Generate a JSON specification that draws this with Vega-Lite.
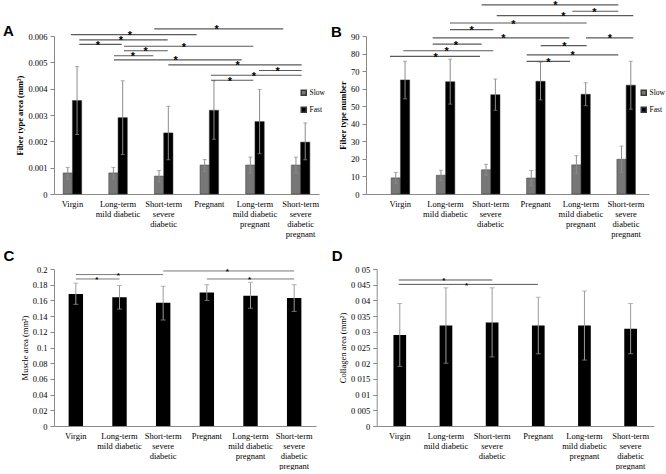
{
  "$schema": "https://vega.github.io/schema/vega-lite/v6.json",
  "background": "white",
  "padding": {"left": 3, "top": 0, "right": 0, "bottom": 0},
  "datasets": {
    "fiberArea": [
      {"group": "Virgin", "type": "Slow", "mean": 0.0008, "lo": 0.00056, "hi": 0.00101},
      {"group": "Virgin", "type": "Fast", "mean": 0.00355, "lo": 0.00226, "hi": 0.00484},
      {"group": "Long-term mild diabetic", "type": "Slow", "mean": 0.0008, "lo": 0.00057, "hi": 0.00101},
      {"group": "Long-term mild diabetic", "type": "Fast", "mean": 0.0029, "lo": 0.0015, "hi": 0.0043},
      {"group": "Short-term severe diabetic", "type": "Slow", "mean": 0.00068, "lo": 0.00046, "hi": 0.00089},
      {"group": "Short-term severe diabetic", "type": "Fast", "mean": 0.00232, "lo": 0.0013, "hi": 0.00333},
      {"group": "Pregnant", "type": "Slow", "mean": 0.0011, "lo": 0.00086, "hi": 0.00131},
      {"group": "Pregnant", "type": "Fast", "mean": 0.00318, "lo": 0.00208, "hi": 0.0043},
      {"group": "Long-term mild diabetic pregnant", "type": "Slow", "mean": 0.0011, "lo": 0.0008, "hi": 0.0014},
      {"group": "Long-term mild diabetic pregnant", "type": "Fast", "mean": 0.00275, "lo": 0.00153, "hi": 0.00397},
      {"group": "Short-term severe diabetic pregnant", "type": "Slow", "mean": 0.0011, "lo": 0.0008, "hi": 0.0014},
      {"group": "Short-term severe diabetic pregnant", "type": "Fast", "mean": 0.00197, "lo": 0.0013, "hi": 0.0027}
    ],
    "fiberNumber": [
      {"group": "Virgin", "type": "Slow", "mean": 9.2, "lo": 6.1, "hi": 12.3},
      {"group": "Virgin", "type": "Fast", "mean": 65, "lo": 54.2, "hi": 75.6},
      {"group": "Long-term mild diabetic", "type": "Slow", "mean": 10.7, "lo": 7.6, "hi": 13.5},
      {"group": "Long-term mild diabetic", "type": "Fast", "mean": 64, "lo": 51.2, "hi": 76.8},
      {"group": "Short-term severe diabetic", "type": "Slow", "mean": 13.8, "lo": 10.7, "hi": 16.9},
      {"group": "Short-term severe diabetic", "type": "Fast", "mean": 56.6, "lo": 47.7, "hi": 65.5},
      {"group": "Pregnant", "type": "Slow", "mean": 9.1, "lo": 4.8, "hi": 13.4},
      {"group": "Pregnant", "type": "Fast", "mean": 64.2, "lo": 53.6, "hi": 75},
      {"group": "Long-term mild diabetic pregnant", "type": "Slow", "mean": 16.6, "lo": 11.5, "hi": 21.8},
      {"group": "Long-term mild diabetic pregnant", "type": "Fast", "mean": 56.8, "lo": 50.3, "hi": 63.4},
      {"group": "Short-term severe diabetic pregnant", "type": "Slow", "mean": 19.8, "lo": 12.3, "hi": 27.3},
      {"group": "Short-term severe diabetic pregnant", "type": "Fast", "mean": 62, "lo": 48.3, "hi": 75.6}
    ],
    "muscleArea": [
      {"group": "Virgin", "mean": 0.168, "lo": 0.155, "hi": 0.182},
      {"group": "Long-term mild diabetic", "mean": 0.164, "lo": 0.149, "hi": 0.179},
      {"group": "Short-term severe diabetic", "mean": 0.157, "lo": 0.135, "hi": 0.178},
      {"group": "Pregnant", "mean": 0.17, "lo": 0.16, "hi": 0.18},
      {"group": "Long-term mild diabetic pregnant", "mean": 0.166, "lo": 0.15, "hi": 0.183},
      {"group": "Short-term severe diabetic pregnant", "mean": 0.163, "lo": 0.146, "hi": 0.18}
    ],
    "collagenArea": [
      {"group": "Virgin", "mean": 0.029, "lo": 0.019, "hi": 0.039},
      {"group": "Long-term mild diabetic", "mean": 0.032, "lo": 0.02, "hi": 0.044},
      {"group": "Short-term severe diabetic", "mean": 0.033, "lo": 0.022, "hi": 0.044},
      {"group": "Pregnant", "mean": 0.032, "lo": 0.023, "hi": 0.041},
      {"group": "Long-term mild diabetic pregnant", "mean": 0.032, "lo": 0.021, "hi": 0.043},
      {"group": "Short-term severe diabetic pregnant", "mean": 0.031, "lo": 0.023, "hi": 0.039}
    ],
    "sigA": [
      {"x1": 2.27, "x2": 5.19, "s": 3.68, "y": 0.00627},
      {"x1": 0.385, "x2": 3.23, "s": 1.72, "y": 0.00605},
      {"x1": 0.573, "x2": 2.574, "s": 1.517, "y": 0.00585},
      {"x1": 0.573, "x2": 1.533, "s": 0.996, "y": 0.00568},
      {"x1": 1.585, "x2": 4.512, "s": 2.943, "y": 0.00561},
      {"x1": 1.585, "x2": 2.574, "s": 2.076, "y": 0.00544},
      {"x1": 1.358, "x2": 2.248, "s": 1.789, "y": 0.00525},
      {"x1": 1.358, "x2": 4.25, "s": 2.755, "y": 0.00509},
      {"x1": 2.588, "x2": 5.608, "s": 4.159, "y": 0.0049},
      {"x1": 4.641, "x2": 5.608, "s": 5.065, "y": 0.00469},
      {"x1": 3.554, "x2": 5.608, "s": 4.528, "y": 0.00451},
      {"x1": 3.554, "x2": 4.512, "s": 3.985, "y": 0.00432}
    ],
    "sigB": [
      {"x1": 2.303, "x2": 5.329, "s": 3.934, "y": 107.7},
      {"x1": 4.31, "x2": 5.329, "s": 4.797, "y": 104.1},
      {"x1": 2.636, "x2": 5.661, "s": 4.111, "y": 101.6},
      {"x1": 1.601, "x2": 4.629, "s": 3.003, "y": 97.4},
      {"x1": 1.601, "x2": 2.56, "s": 2.082, "y": 93.6},
      {"x1": 1.218, "x2": 4.244, "s": 2.782, "y": 88.9},
      {"x1": 4.614, "x2": 5.661, "s": 5.145, "y": 88.9},
      {"x1": 1.218, "x2": 2.303, "s": 1.734, "y": 85.4},
      {"x1": 3.61, "x2": 4.629, "s": 4.133, "y": 84.5},
      {"x1": 0.567, "x2": 2.56, "s": 1.528, "y": 81.6},
      {"x1": 3.3, "x2": 5.329, "s": 4.319, "y": 79.3},
      {"x1": 0.272, "x2": 2.266, "s": 1.285, "y": 78.4},
      {"x1": 3.3, "x2": 4.259, "s": 3.779, "y": 75.6}
    ],
    "sigC": [
      {"x1": 0.5, "x2": 2.5, "s": 1.47, "y": 0.1929},
      {"x1": 0.5, "x2": 1.5, "s": 0.98, "y": 0.1873},
      {"x1": 2.5, "x2": 5.5, "s": 3.97, "y": 0.1975},
      {"x1": 3.5, "x2": 5.5, "s": 4.48, "y": 0.1873}
    ],
    "sigD": [
      {"x1": 0.477, "x2": 2.503, "s": 1.453, "y": 0.0465},
      {"x1": 0.477, "x2": 3.492, "s": 1.946, "y": 0.0451}
    ]
  },
  "vconcat": [
    {
      "hconcat": [
        {
          "width": 265, "height": 158,
          "title": {"text": "A", "dx": -51, "dy": 18.6},
          "resolve": {"scale": {"x": "independent"}},
          "layer": [
            {
              "data": {"name": "fiberArea"},
              "encoding": {
                "x": {"field": "group", "type": "nominal", "sort": ["Virgin", "Long-term mild diabetic", "Short-term severe diabetic", "Pregnant", "Long-term mild diabetic pregnant", "Short-term severe diabetic pregnant"], "scale": {"paddingInner": 0.593},
                  "axis": {"title": null, "labelExpr": "datum.label == 'Long-term mild diabetic' ? ['Long-term', 'mild diabetic'] : datum.label == 'Short-term severe diabetic' ? ['Short-term', 'severe', 'diabetic'] : datum.label == 'Long-term mild diabetic pregnant' ? ['Long-term', 'mild diabetic', 'pregnant'] : datum.label == 'Short-term severe diabetic pregnant' ? ['Short-term', 'severe', 'diabetic', 'pregnant'] : datum.label"}},
                "xOffset": {"field": "type", "type": "nominal", "sort": ["Slow", "Fast"]}
              },
              "layer": [
                {
                  "mark": {"type": "bar", "stroke": "#3a3a3a", "strokeWidth": 0.5},
                  "encoding": {
                    "y": {"field": "mean", "type": "quantitative", "scale": {"domain": [0, 0.006], "nice": false},
                      "axis": {"title": "Fiber type area (mm²)", "titleFontWeight": "bold", "values": [0, 0.001, 0.002, 0.003, 0.004, 0.005, 0.006], "tickCount": 30, "labelExpr": "format(datum.value, '~g')", "labelOverlap": false}},
                    "color": {"field": "type", "type": "nominal", "sort": ["Slow", "Fast"], "scale": {"domain": ["Slow", "Fast"], "range": ["#777777", "#000000"]},
                      "legend": {"title": null, "orient": "none", "legendX": 246, "legendY": 53}}
                  }
                },
                {
                  "mark": {"type": "rule", "color": "#8c8c8c", "strokeWidth": 1},
                  "encoding": {"y": {"field": "lo", "type": "quantitative", "scale": {"domain": [0, 0.006], "nice": false}}, "y2": {"field": "hi"}}
                },
                {
                  "mark": {"type": "tick", "color": "#8c8c8c", "thickness": 1, "size": 4},
                  "encoding": {"y": {"field": "hi", "type": "quantitative", "scale": {"domain": [0, 0.006], "nice": false}}}
                },
                {
                  "mark": {"type": "tick", "color": "#8c8c8c", "thickness": 1, "size": 4},
                  "encoding": {"y": {"field": "lo", "type": "quantitative", "scale": {"domain": [0, 0.006], "nice": false}}}
                }
              ]
            },
            {
              "data": {"name": "sigA"},
              "layer": [
                {
                  "mark": {"type": "rule", "color": "#5a5a5a", "strokeWidth": 1.2, "clip": false},
                  "encoding": {
                    "x": {"field": "x1", "type": "quantitative", "scale": {"domain": [0, 6], "nice": false, "zero": false}, "axis": null},
                    "x2": {"field": "x2"},
                    "y": {"field": "y", "type": "quantitative", "scale": {"domain": [0, 0.006], "nice": false}}
                  }
                },
                {
                  "mark": {"type": "text", "text": "*", "font": "Liberation Sans", "fontSize": 11, "fontWeight": "bold", "baseline": "alphabetic", "dy": 4.5, "clip": false},
                  "encoding": {
                    "x": {"field": "s", "type": "quantitative", "scale": {"domain": [0, 6], "nice": false, "zero": false}, "axis": null},
                    "y": {"field": "y", "type": "quantitative", "scale": {"domain": [0, 0.006], "nice": false}}
                  }
                }
              ]
            }
          ]
        },
        {
          "width": 283, "height": 158,
          "title": {"text": "B", "dx": -35, "dy": 43.2},
          "resolve": {"scale": {"x": "independent"}},
          "layer": [
            {
              "data": {"name": "fiberNumber"},
              "encoding": {
                "x": {"field": "group", "type": "nominal", "sort": ["Virgin", "Long-term mild diabetic", "Short-term severe diabetic", "Pregnant", "Long-term mild diabetic pregnant", "Short-term severe diabetic pregnant"], "scale": {"paddingInner": 0.595, "paddingOuter": 0.4315, "align": 0.645},
                  "axis": {"title": null, "labelExpr": "datum.label == 'Long-term mild diabetic' ? ['Long-term', 'mild diabetic'] : datum.label == 'Short-term severe diabetic' ? ['Short-term', 'severe', 'diabetic'] : datum.label == 'Long-term mild diabetic pregnant' ? ['Long-term', 'mild diabetic', 'pregnant'] : datum.label == 'Short-term severe diabetic pregnant' ? ['Short-term', 'severe', 'diabetic', 'pregnant'] : datum.label"}},
                "xOffset": {"field": "type", "type": "nominal", "sort": ["Slow", "Fast"]}
              },
              "layer": [
                {
                  "mark": {"type": "bar", "stroke": "#3a3a3a", "strokeWidth": 0.5},
                  "encoding": {
                    "y": {"field": "mean", "type": "quantitative", "scale": {"domain": [0, 90], "nice": false},
                      "axis": {"title": "Fiber type number", "titleFontWeight": "bold", "values": [0, 10, 20, 30, 40, 50, 60, 70, 80, 90], "tickCount": 30, "labelExpr": "format(datum.value, '~g')", "labelOverlap": false}},
                    "color": {"field": "type", "type": "nominal", "sort": ["Slow", "Fast"], "scale": {"domain": ["Slow", "Fast"], "range": ["#777777", "#000000"]},
                      "legend": {"title": null, "orient": "none", "legendX": 274, "legendY": 53}}
                  }
                },
                {
                  "mark": {"type": "rule", "color": "#8c8c8c", "strokeWidth": 1},
                  "encoding": {"y": {"field": "lo", "type": "quantitative", "scale": {"domain": [0, 90], "nice": false}}, "y2": {"field": "hi"}}
                },
                {
                  "mark": {"type": "tick", "color": "#8c8c8c", "thickness": 1, "size": 4},
                  "encoding": {"y": {"field": "hi", "type": "quantitative", "scale": {"domain": [0, 90], "nice": false}}}
                },
                {
                  "mark": {"type": "tick", "color": "#8c8c8c", "thickness": 1, "size": 4},
                  "encoding": {"y": {"field": "lo", "type": "quantitative", "scale": {"domain": [0, 90], "nice": false}}}
                }
              ]
            },
            {
              "data": {"name": "sigB"},
              "layer": [
                {
                  "mark": {"type": "rule", "color": "#5a5a5a", "strokeWidth": 1.2, "clip": false},
                  "encoding": {
                    "x": {"field": "x1", "type": "quantitative", "scale": {"domain": [-0.259, 6.009], "nice": false, "zero": false}, "axis": null},
                    "x2": {"field": "x2"},
                    "y": {"field": "y", "type": "quantitative", "scale": {"domain": [0, 90], "nice": false}}
                  }
                },
                {
                  "mark": {"type": "text", "text": "*", "font": "Liberation Sans", "fontSize": 11, "fontWeight": "bold", "baseline": "alphabetic", "dy": 4.5, "clip": false},
                  "encoding": {
                    "x": {"field": "s", "type": "quantitative", "scale": {"domain": [-0.259, 6.009], "nice": false, "zero": false}, "axis": null},
                    "y": {"field": "y", "type": "quantitative", "scale": {"domain": [0, 90], "nice": false}}
                  }
                }
              ]
            }
          ]
        }
      ],
      "spacing": 47,
      "bounds": "flush",
      "resolve": {"scale": {"color": "independent"}, "legend": {"color": "independent"}}
    },
    {
      "hconcat": [
        {
          "width": 262, "height": 157,
          "title": {"text": "C", "dx": -50.6, "dy": 3},
          "resolve": {"scale": {"x": "independent"}},
          "layer": [
            {
              "data": {"name": "muscleArea"},
              "encoding": {
                "x": {"field": "group", "type": "nominal", "sort": ["Virgin", "Long-term mild diabetic", "Short-term severe diabetic", "Pregnant", "Long-term mild diabetic pregnant", "Short-term severe diabetic pregnant"], "scale": {"paddingInner": 0.67},
                  "axis": {"title": null, "labelExpr": "datum.label == 'Long-term mild diabetic' ? ['Long-term', 'mild diabetic'] : datum.label == 'Short-term severe diabetic' ? ['Short-term', 'severe', 'diabetic'] : datum.label == 'Long-term mild diabetic pregnant' ? ['Long-term', 'mild diabetic', 'pregnant'] : datum.label == 'Short-term severe diabetic pregnant' ? ['Short-term', 'severe', 'diabetic', 'pregnant'] : datum.label"}}
              },
              "layer": [
                {
                  "mark": {"type": "bar", "color": "#000000"},
                  "encoding": {
                    "y": {"field": "mean", "type": "quantitative", "scale": {"domain": [0, 0.2], "nice": false},
                      "axis": {"title": "Muscle area (mm²)", "values": [0, 0.02, 0.04, 0.06, 0.08, 0.1, 0.12, 0.14, 0.16, 0.18, 0.2], "tickCount": 30, "labelExpr": "format(datum.value, '~g')", "labelOverlap": false}}
                  }
                },
                {
                  "mark": {"type": "rule", "color": "#9a9a9a", "strokeWidth": 1},
                  "encoding": {"y": {"field": "lo", "type": "quantitative", "scale": {"domain": [0, 0.2], "nice": false}}, "y2": {"field": "hi"}}
                },
                {
                  "mark": {"type": "tick", "color": "#9a9a9a", "thickness": 1, "size": 5},
                  "encoding": {"y": {"field": "hi", "type": "quantitative", "scale": {"domain": [0, 0.2], "nice": false}}}
                },
                {
                  "mark": {"type": "tick", "color": "#9a9a9a", "thickness": 1, "size": 5},
                  "encoding": {"y": {"field": "lo", "type": "quantitative", "scale": {"domain": [0, 0.2], "nice": false}}}
                }
              ]
            },
            {
              "data": {"name": "sigC"},
              "layer": [
                {
                  "mark": {"type": "rule", "color": "#7a7a7a", "strokeWidth": 1, "clip": false},
                  "encoding": {
                    "x": {"field": "x1", "type": "quantitative", "scale": {"domain": [0, 6], "nice": false, "zero": false}, "axis": null},
                    "x2": {"field": "x2"},
                    "y": {"field": "y", "type": "quantitative", "scale": {"domain": [0, 0.2], "nice": false}}
                  }
                },
                {
                  "mark": {"type": "text", "text": "*", "font": "Liberation Sans", "fontSize": 8, "fontWeight": "bold", "baseline": "alphabetic", "dy": 3.2, "clip": false},
                  "encoding": {
                    "x": {"field": "s", "type": "quantitative", "scale": {"domain": [0, 6], "nice": false, "zero": false}, "axis": null},
                    "y": {"field": "y", "type": "quantitative", "scale": {"domain": [0, 0.2], "nice": false}}
                  }
                }
              ]
            }
          ]
        },
        {
          "width": 277, "height": 157,
          "title": {"text": "D", "dx": -45, "dy": 3},
          "resolve": {"scale": {"x": "independent"}},
          "layer": [
            {
              "data": {"name": "collagenArea"},
              "encoding": {
                "x": {"field": "group", "type": "nominal", "sort": ["Virgin", "Long-term mild diabetic", "Short-term severe diabetic", "Pregnant", "Long-term mild diabetic pregnant", "Short-term severe diabetic pregnant"], "scale": {"paddingInner": 0.725},
                  "axis": {"title": null, "labelExpr": "datum.label == 'Long-term mild diabetic' ? ['Long-term', 'mild diabetic'] : datum.label == 'Short-term severe diabetic' ? ['Short-term', 'severe', 'diabetic'] : datum.label == 'Long-term mild diabetic pregnant' ? ['Long-term', 'mild diabetic', 'pregnant'] : datum.label == 'Short-term severe diabetic pregnant' ? ['Short-term', 'severe', 'diabetic', 'pregnant'] : datum.label"}}
              },
              "layer": [
                {
                  "mark": {"type": "bar", "color": "#000000"},
                  "encoding": {
                    "y": {"field": "mean", "type": "quantitative", "scale": {"domain": [0, 0.05], "nice": false},
                      "axis": {"title": "Collagen area (mm²)", "values": [0, 0.005, 0.01, 0.015, 0.02, 0.025, 0.03, 0.035, 0.04, 0.045, 0.05], "tickCount": 30, "labelExpr": "replace(format(datum.value, '~g'), '.', ' ')", "labelOverlap": false}}
                  }
                },
                {
                  "mark": {"type": "rule", "color": "#9a9a9a", "strokeWidth": 1},
                  "encoding": {"y": {"field": "lo", "type": "quantitative", "scale": {"domain": [0, 0.05], "nice": false}}, "y2": {"field": "hi"}}
                },
                {
                  "mark": {"type": "tick", "color": "#9a9a9a", "thickness": 1, "size": 5},
                  "encoding": {"y": {"field": "hi", "type": "quantitative", "scale": {"domain": [0, 0.05], "nice": false}}}
                },
                {
                  "mark": {"type": "tick", "color": "#9a9a9a", "thickness": 1, "size": 5},
                  "encoding": {"y": {"field": "lo", "type": "quantitative", "scale": {"domain": [0, 0.05], "nice": false}}}
                }
              ]
            },
            {
              "data": {"name": "sigD"},
              "layer": [
                {
                  "mark": {"type": "rule", "color": "#555555", "strokeWidth": 1, "clip": false},
                  "encoding": {
                    "x": {"field": "x1", "type": "quantitative", "scale": {"domain": [0, 6], "nice": false, "zero": false}, "axis": null},
                    "x2": {"field": "x2"},
                    "y": {"field": "y", "type": "quantitative", "scale": {"domain": [0, 0.05], "nice": false}}
                  }
                },
                {
                  "mark": {"type": "text", "text": "*", "font": "Liberation Sans", "fontSize": 8, "fontWeight": "bold", "baseline": "alphabetic", "dy": 3.2, "clip": false},
                  "encoding": {
                    "x": {"field": "s", "type": "quantitative", "scale": {"domain": [0, 6], "nice": false, "zero": false}, "axis": null},
                    "y": {"field": "y", "type": "quantitative", "scale": {"domain": [0, 0.05], "nice": false}}
                  }
                }
              ]
            }
          ]
        }
      ],
      "spacing": 60.7,
      "bounds": "flush"
    }
  ],
  "spacing": 11,
  "resolve": {"scale": {"color": "independent"}, "legend": {"color": "independent"}},
  "config": {
    "view": {"stroke": null},
    "font": "Liberation Serif",
    "axis": {"labelFont": "Liberation Serif", "labelFontSize": 8.5, "labelColor": "#000000", "titleFont": "Liberation Serif", "titleFontSize": 8.5, "titleColor": "#000000", "titleFontWeight": "normal", "domainColor": "#8a8a8a", "tickColor": "#8a8a8a", "grid": false},
    "axisX": {"ticks": false, "tickSize": 0, "labelAngle": 0, "labelPadding": 5, "labelLineHeight": 10, "labelOverlap": false, "labelLimit": 0},
    "axisY": {"tickSize": 4, "labelPadding": 3, "titlePadding": 3, "labelOverlap": false},
    "legend": {"labelFont": "Liberation Serif", "labelFontSize": 7.5, "labelColor": "#000000", "symbolType": "square", "symbolSize": 25, "rowPadding": 5, "labelOffset": 2, "padding": 0},
    "title": {"font": "Liberation Sans", "fontSize": 15, "fontWeight": "bold", "color": "#000000", "anchor": "start", "frame": "group", "offset": 0, "baseline": "alphabetic"}
  }
}
